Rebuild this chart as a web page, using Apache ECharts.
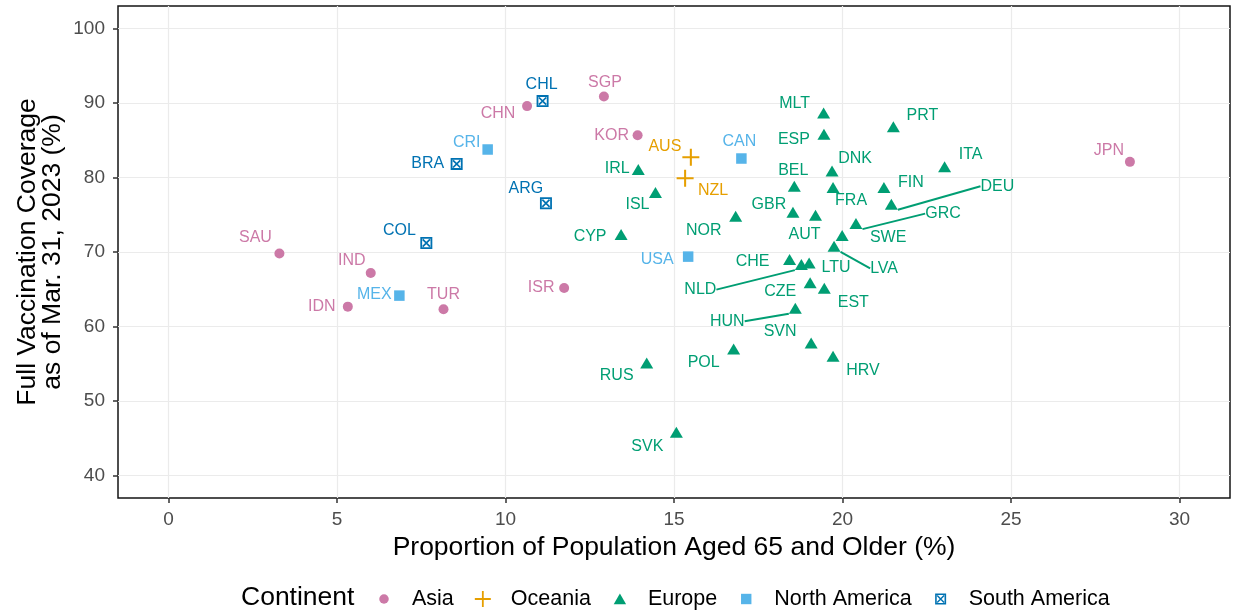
<!DOCTYPE html>
<html>
<head>
<meta charset="utf-8">
<script src="https://cdn.jsdelivr.net/npm/echarts@6/dist/echarts.min.js"></script>
<style>
  html, body { margin: 0; padding: 0; background: #ffffff; }
  #chart { width: 1235px; height: 611px; }
</style>
</head>
<body>
<div id="chart"></div>
<script>
// ISO3 codes, share of population aged 65+ (%) and full vaccination coverage (%), by continent
const asiaCodes    = ['SAU', 'IND', 'IDN', 'TUR', 'ISR', 'CHN', 'SGP', 'KOR', 'JPN'];
const asiaAged     = [3.29, 6.00, 5.32, 8.16, 11.74, 10.64, 12.92, 13.92, 28.53];
const asiaCoverage = [69.79, 67.18, 62.67, 62.31, 65.17, 89.57, 90.87, 85.67, 82.09];

const oceaniaCodes    = ['AUS', 'NZL'];
const oceaniaAged     = [15.50, 15.33];
const oceaniaCoverage = [82.72, 79.90];

const europeCodes = ['MLT', 'ESP', 'PRT', 'ITA', 'DNK', 'BEL', 'FRA', 'FIN', 'DEU', 'IRL',
                     'ISL', 'GBR', 'AUT', 'NOR', 'GRC', 'SWE', 'LVA', 'CYP', 'CHE', 'NLD',
                     'LTU', 'CZE', 'EST', 'HUN', 'SVN', 'HRV', 'POL', 'RUS', 'SVK'];
const europeAged = [19.44, 19.45, 21.51, 23.03, 19.69, 18.57, 19.72, 21.23, 21.45, 13.94,
                    14.45, 18.53, 19.20, 16.83, 20.40, 19.99, 19.75, 13.43, 18.43, 18.78,
                    19.01, 19.04, 19.46, 18.60, 19.07, 19.72, 16.77, 14.19, 15.07];
const europeCoverage = [88.63, 85.81, 86.79, 81.42, 80.88, 78.82, 78.65, 78.65, 76.41, 81.07,
                        77.98, 75.33, 74.93, 74.80, 73.81, 72.20, 70.77, 72.34, 68.98, 68.31,
                        68.53, 65.89, 65.13, 62.44, 57.78, 56.00, 56.98, 55.10, 45.83];

const northAmCodes    = ['CRI', 'CAN', 'USA', 'MEX'];
const northAmAged     = [9.47, 17.00, 15.42, 6.85];
const northAmCoverage = [83.75, 82.54, 69.38, 64.15];

const southAmCodes    = ['CHL', 'BRA', 'ARG', 'COL'];
const southAmAged     = [11.10, 8.55, 11.20, 7.65];
const southAmCoverage = [90.24, 81.82, 76.54, 71.21];

// Axis ticks
const xTicks = [0, 5, 10, 15, 20, 25, 30];
const yTicks = [40, 50, 60, 70, 80, 90, 100];

// Repelled label placement (pixel shift of each label from its point)
const labelShift = {
  SAU: [-24, -16], IND: [-19, -12], IDN: [-26, 0], TUR: [0, -15], ISR: [-23, 0],
  CHN: [-29, 7], SGP: [1, -14], KOR: [-26, 0], JPN: [-21, -11],
  AUS: [-26, -11], NZL: [28, 12],
  CRI: [-21, -7], CAN: [-2, -17], USA: [-31, 3], MEX: [-25, -1],
  CHL: [-1, -17], BRA: [-29, 0], ARG: [-20, -15], COL: [-27, -12],
  MLT: [-29, -10], ESP: [-30, 5], PRT: [29, -11], ITA: [26, -12], DNK: [23, -12],
  BEL: [-1, -16], FRA: [18, 13], FIN: [27, -5], DEU: [106, -18], IRL: [-21, -1],
  ISL: [-18, 12], GBR: [-24, -8], AUT: [-11, 19], NOR: [-32, 14], GRC: [87, -10],
  SWE: [46, 2], LVA: [50, 22], CYP: [-31, 2], CHE: [-37, 2], NLD: [-101, 25],
  LTU: [27, 5], CZE: [-30, 9], EST: [29, 14], HUN: [-68, 13], SVN: [-31, -12],
  HRV: [30, 14], POL: [-30, 14], RUS: [-30, 13], SVK: [-29, 14]
};
// Labels pushed far enough to get a connecting segment
const leaderLines = ['DEU', 'GRC', 'LVA', 'NLD', 'HUN'];

const FONT = '"Liberation Sans", Arial, Helvetica, sans-serif';

// Point shapes
const PLUS = 'path://M44,0H56V100H44Z M0,44H100V56H0Z';
const BOXCROSS = 'path://M0,0H100V100H0Z M15,15V85H85V15Z M15,25L25,15L85,75L75,85Z M75,15L85,25L25,85L15,75Z';

// Legend keys drawn inside a 16x16 frame so each keeps its own size
const KEY_CIRCLE = 'path://M0,0M16,16M8,3.25A4.75,4.75,0,1,1,8,12.75A4.75,4.75,0,1,1,8,3.25Z';
const KEY_PLUS = 'path://M7.1,0H8.9V16H7.1Z M0,7.1H16V8.9H0Z';
const KEY_TRI = 'path://M0,0M16,16M8,2.6L14.2,13.2H1.8Z';
const KEY_RECT = 'path://M0,0M16,16M2.8,2.8H13.2V13.2H2.8Z';
const KEY_BOX = 'path://M0,0M16,16M2.5,2.5H13.5V13.5H2.5Z M4.1,4.1V11.9H11.9V4.1Z M4.1,5.1L5.1,4.1L11.9,10.9L10.9,11.9Z M10.9,4.1L11.9,5.1L5.1,11.9L4.1,10.9Z';

const COLORS = {
  Asia: '#CC79A7',
  Oceania: '#E69F00',
  Europe: '#009E73',
  'North America': '#56B4E9',
  'South America': '#0072B2'
};

function continentSeries(name, codes, aged, coverage, symbol, size) {
  const color = COLORS[name];
  return {
    type: 'scatter',
    name: name,
    symbol: symbol,
    symbolSize: size,
    itemStyle: { color: color, opacity: 1 },
    label: {
      show: true,
      position: 'inside',
      formatter: '{b}',
      color: color,
      fontSize: 16,
      fontFamily: FONT,
      textBorderWidth: 0,
      textBorderColor: 'transparent'
    },
    labelLayout: function (p) {
      const s = labelShift[codes[p.dataIndex]] || [0, 0];
      return { dx: s[0], dy: s[1] };
    },
    labelLine: { show: false, lineStyle: { color: color, width: 2 } },
    data: codes.map(function (c, i) {
      const item = { name: c, value: [aged[i], coverage[i]] };
      if (leaderLines.indexOf(c) >= 0) {
        item.labelLine = { show: true, lineStyle: { color: color, width: 2, opacity: 1 } };
      }
      return item;
    }),
    emphasis: { disabled: true },
    silent: true,
    z: 3
  };
}

const chart = echarts.init(document.getElementById('chart'), null, { renderer: 'canvas' });

chart.setOption({
  animation: false,
  backgroundColor: '#ffffff',
  grid: {
    left: 118, right: 5, top: 6, bottom: 113,
    show: true, borderColor: '#141414', borderWidth: 1.5, backgroundColor: '#ffffff',
    containLabel: false,
    outerBoundsMode: 'none'
  },
  title: {
    text: 'Continent',
    left: 241, top: 584, padding: 0,
    textStyle: { fontSize: 26.5, fontWeight: 'normal', color: '#000000', fontFamily: FONT }
  },
  legend: {
    left: 376, top: 588, padding: 0,
    itemWidth: 16, itemHeight: 16, itemGap: 21,
    symbolKeepAspect: true,
    selectedMode: false,
    textStyle: { fontSize: 21.5, color: '#000000', fontFamily: FONT, padding: [0, 0, 0, 15] },
    data: [
      { name: 'Asia', icon: KEY_CIRCLE },
      { name: 'Oceania', icon: KEY_PLUS },
      { name: 'Europe', icon: KEY_TRI },
      { name: 'North America', icon: KEY_RECT },
      { name: 'South America', icon: KEY_BOX }
    ]
  },
  xAxis: {
    type: 'value',
    min: -1.5, max: 31.5,
    name: 'Proportion of Population Aged 65 and Older (%)',
    nameLocation: 'middle',
    nameGap: 36,
    nameMoveOverlap: false,
    nameTextStyle: { fontSize: 26.5, color: '#000000', fontFamily: FONT },
    axisLine: { show: false, onZero: false },
    axisTick: { show: true, length: 5, lineStyle: { color: '#333333', width: 1.5 }, customValues: xTicks },
    axisLabel: { color: '#4d4d4d', fontSize: 19, margin: 12, fontFamily: FONT, customValues: xTicks },
    splitLine: { show: true, lineStyle: { color: '#ebebeb', width: 1.2 } }
  },
  yAxis: {
    type: 'value',
    min: 37, max: 103,
    name: 'Full Vaccination Coverage\nas of Mar. 31, 2023 (%)',
    nameLocation: 'middle',
    nameRotate: 90,
    nameGap: 53,
    nameMoveOverlap: false,
    nameTextStyle: { fontSize: 26.5, lineHeight: 25, color: '#000000', fontFamily: FONT, align: 'center' },
    axisLine: { show: false, onZero: false },
    axisTick: { show: true, length: 5, lineStyle: { color: '#333333', width: 1.5 }, customValues: yTicks },
    axisLabel: { color: '#4d4d4d', fontSize: 19, margin: 13, fontFamily: FONT, customValues: yTicks },
    splitLine: { show: true, lineStyle: { color: '#ebebeb', width: 1.2 } }
  },
  series: [
    continentSeries('Asia', asiaCodes, asiaAged, asiaCoverage, 'circle', 10),
    continentSeries('Oceania', oceaniaCodes, oceaniaAged, oceaniaCoverage, PLUS, 17),
    continentSeries('Europe', europeCodes, europeAged, europeCoverage, 'triangle', [13, 11]),
    continentSeries('North America', northAmCodes, northAmAged, northAmCoverage, 'rect', 10.5),
    continentSeries('South America', southAmCodes, southAmAged, southAmCoverage, BOXCROSS, 12)
  ]
});
</script>
</body>
</html>
